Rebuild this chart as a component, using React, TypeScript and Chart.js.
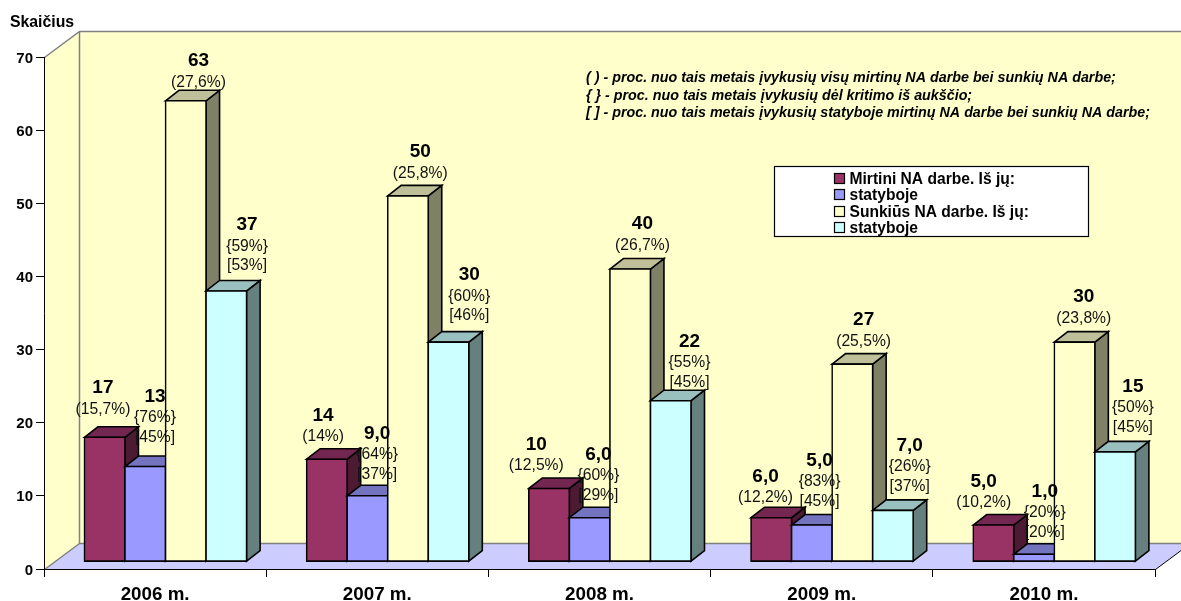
import React, { useEffect, useRef } from "react";
import { Chart, registerables } from "chart.js";

Chart.register(...registerables);

const FONT = '"Liberation Sans", Arial, sans-serif';

const categories = ["2006 m.", "2007 m.", "2008 m.", "2009 m.", "2010 m."];
const seriesNames = ["Mirtini NA darbe. Iš jų:", "statyboje", "Sunkiūs NA darbe. Iš jų:", "statyboje"];
const fatal = [17, 14, 10, 6, 5];
const fatalConstruction = [13, 9, 6, 5, 1];
const severe = [63, 50, 40, 27, 30];
const severeConstruction = [37, 30, 22, 7, 15];

const fatalLabels = ["17", "14", "10", "6,0", "5,0"];
const fatalConstructionLabels = ["13", "9,0", "6,0", "5,0", "1,0"];
const severeLabels = ["63", "50", "40", "27", "30"];
const severeConstructionLabels = ["37", "30", "22", "7,0", "15"];

const fatalNotes = [["(15,7%)"], ["(14%)"], ["(12,5%)"], ["(12,2%)"], ["(10,2%)"]];
const fatalConstructionNotes = [["{76%}", "[45%]"], ["{64%}", "[37%]"], ["{60%}", "[29%]"], ["{83%}", "[45%]"], ["{20%}", "[20%]"]];
const severeNotes = [["(27,6%)"], ["(25,8%)"], ["(26,7%)"], ["(25,5%)"], ["(23,8%)"]];
const severeConstructionNotes = [["{59%}", "[53%]"], ["{60%}", "[46%]"], ["{55%}", "[45%]"], ["{26%}", "[37%]"], ["{50%}", "[45%]"]];

const annotationLines = [
  "( ) - proc. nuo tais metais įvykusių visų mirtinų NA darbe bei sunkių NA darbe;",
  "{ } - proc. nuo tais metais įvykusių dėl kritimo iš aukščio;",
  "[ ] - proc. nuo tais metais įvykusių statyboje mirtinų NA darbe bei sunkių NA darbe;",
];
const yAxisCaption = "Skaičius";

// hand-placed label offsets from each bar's top-centre, as in the source chart
const labelDx = [
  [-1.75, -3.75, -12.75, -5.75, -9.75],
  [9.75, 9.75, 8.75, 7.75, 10.75],
  [12.75, 12.25, 12.25, 11.25, 9.25],
  [20.75, 20.75, 18.75, 16.75, 17.75],
];
const labelDy = [
  [-50.5, -45.4, -45.6, -42.9, -45.2],
  [-71.7, -63.9, -64.9, -66.2, -64.4],
  [-41.4, -45.4, -46.4, -45.4, -46.5],
  [-67.3, -68.5, -60.9, -66.6, -67.1],
];

const fills = ["#993366", "#9999FF", "#FFFFCC", "#CCFFFF"];
const topFills = ["#732650", "#7373BF", "#BFBF99", "#99BFBF"];
const sideFills = ["#4D1A33", "#4D4D80", "#808066", "#668080"];

const BAR_SHIFT_X = 10.4;
const BAR_SHIFT_Y = -7.4;
const BAR_DEPTH_X = 13.5;
const BAR_DEPTH_Y = 10.5;
const BAR_LINE = 1.6;
const WALL_DEPTH_X = 35;
const WALL_DEPTH_Y = 26;

function poly(ctx: CanvasRenderingContext2D, pts: number[][], fill: string, stroke: string | null, lw = BAR_LINE) {
  ctx.beginPath();
  pts.forEach((p, i) => (i ? ctx.lineTo(p[0], p[1]) : ctx.moveTo(p[0], p[1])));
  ctx.closePath();
  ctx.fillStyle = fill;
  ctx.fill();
  if (stroke) {
    ctx.lineWidth = lw;
    ctx.strokeStyle = stroke;
    ctx.lineJoin = "miter";
    ctx.stroke();
  }
}

const scenePlugin = {
  id: "scene3d",
  beforeDraw(chart: any) {
    const { ctx, chartArea: a } = chart;
    const dx = WALL_DEPTH_X, dy = WALL_DEPTH_Y;
    const L = a.left + 0.5, R = a.right + 0.5, T = a.top + 0.5, B = a.bottom + 0.5;
    ctx.save();
    ctx.fillStyle = "#FFFFFF";
    ctx.fillRect(0, 0, chart.width, chart.height);
    poly(ctx, [[L + dx, T - dy], [R + dx, T - dy], [R + dx, B - dy], [L + dx, B - dy]], "#FFFFCC", null);
    poly(ctx, [[L, T], [L + dx, T - dy], [L + dx, B - dy], [L, B]], "#FFFFCC", null);
    poly(ctx, [[L, B], [L + dx, B - dy], [R + dx, B - dy], [R, B]], "#CCCCFF", null);
    ctx.strokeStyle = "#808080";
    ctx.lineWidth = 1.5;
    ctx.beginPath();
    ctx.moveTo(L, T); ctx.lineTo(L + dx, T - dy); ctx.lineTo(R + dx, T - dy);
    ctx.moveTo(L + dx, T - dy); ctx.lineTo(L + dx, B - dy); ctx.lineTo(R + dx, B - dy);
    ctx.moveTo(L, B); ctx.lineTo(L + dx, B - dy);
    ctx.stroke();
    ctx.strokeStyle = "#000000";
    ctx.lineWidth = 1;
    ctx.beginPath();
    ctx.moveTo(R, B); ctx.lineTo(R + dx, B - dy);
    ctx.stroke();
    ctx.restore();
  },
  // Chart.js paints datasets last-to-first; this scene needs first-to-last so nearer faces overlap.
  beforeDatasetsDraw(chart: any) {
    const { ctx } = chart;
    chart.data.datasets.forEach((_: any, i: number) => {
      const meta = chart.getDatasetMeta(i);
      ctx.save();
      ctx.translate(BAR_SHIFT_X, BAR_SHIFT_Y);
      meta.data.forEach((el: any) => {
        const { x, y, base, width } = el.getProps(["x", "y", "base", "width"], true);
        const l = x - width / 2, r = x + width / 2;
        const dx = BAR_DEPTH_X, dy = BAR_DEPTH_Y;
        poly(ctx, [[r, y], [r + dx, y - dy], [r + dx, base - dy], [r, base]], sideFills[i], "#000000");
        poly(ctx, [[l, y], [l + dx, y - dy], [r + dx, y - dy], [r, y]], topFills[i], "#000000");
      });
      meta.controller.draw();
      ctx.restore();
    });
  },
  beforeDatasetDraw() {
    return false;
  },
  afterDatasetsDraw(chart: any) {
    const { ctx } = chart;
    const valueText = [fatalLabels, fatalConstructionLabels, severeLabels, severeConstructionLabels];
    const noteText = [fatalNotes, fatalConstructionNotes, severeNotes, severeConstructionNotes];
    ctx.save();
    ctx.textAlign = "center";
    ctx.textBaseline = "middle";
    ctx.fillStyle = "#000000";
    chart.data.datasets.forEach((_: any, i: number) => {
      chart.getDatasetMeta(i).data.forEach((el: any, k: number) => {
        const { x, y } = el.getProps(["x", "y"], true);
        const cx = x + BAR_SHIFT_X + labelDx[i][k];
        const cy = y + BAR_SHIFT_Y + labelDy[i][k];
        ctx.font = `bold 19px ${FONT}`;
        ctx.fillStyle = "#000000";
        ctx.fillText(valueText[i][k], cx, cy + 1.5);
        ctx.font = `15.7px ${FONT}`;
        ctx.fillStyle = "#111111";
        noteText[i][k].forEach((line: string, n: number) => {
          ctx.fillText(line, cx, cy + (n === 0 ? 23 : 42.5));
        });
      });
    });

    // notes on the wall
    ctx.textAlign = "left";
    ctx.font = `italic bold 14.3px ${FONT}`;
    ctx.fillStyle = "#000000";
    annotationLines.forEach((line, n) => ctx.fillText(line, 586, 78 + n * 17.7));

    // axis caption
    ctx.font = `bold 15.8px ${FONT}`;
    ctx.fillText(yAxisCaption, 10, 22.5);

    // legend
    ctx.lineWidth = 1.2;
    ctx.strokeStyle = "#000000";
    ctx.fillStyle = "#FFFFFF";
    ctx.fillRect(774.5, 166.5, 314, 70);
    ctx.strokeRect(774.5, 166.5, 314, 70);
    ctx.font = `bold 15.6px ${FONT}`;
    seriesNames.forEach((name, n) => {
      const ry = 178 + n * 16.35;
      ctx.fillStyle = fills[n];
      ctx.fillRect(834.5, Math.round(ry - 5) + 0.5, 10, 10);
      ctx.strokeRect(834.5, Math.round(ry - 5) + 0.5, 10, 10);
      ctx.fillStyle = "#000000";
      ctx.fillText(name, 849.5, ry + 1.5);
    });
    ctx.restore();
  },
};

const seriesData = [fatal, fatalConstruction, severe, severeConstruction];

export default function App() {
  const ref = useRef<HTMLCanvasElement>(null);
  useEffect(() => {
    if (!ref.current) return;
    const chart = new Chart(ref.current, {
      type: "bar",
      data: {
        labels: categories,
        datasets: seriesData.map((data, i) => ({
          label: seriesNames[i],
          data,
          backgroundColor: fills[i],
          borderColor: "#000000",
          borderWidth: BAR_LINE,
          borderSkipped: false,
          inflateAmount: BAR_LINE / 2,
          barPercentage: 1,
          categoryPercentage: 0.73,
        })),
      },
      options: {
        responsive: false,
        animation: false,
        devicePixelRatio: 1,
        layout: { autoPadding: false, padding: { left: 0, top: 57, right: 26, bottom: 0 } },
        plugins: { legend: { display: false }, title: { display: false }, tooltip: { enabled: false } },
        font: { family: FONT },
        scales: {
          x: {
            offset: true,
            afterFit: (s: any) => { s.height = 32; },
            border: { color: "#000000", width: 1 },
            grid: { offset: true, drawOnChartArea: false, drawTicks: true, tickLength: 8, color: "#000000" },
            ticks: { color: "#000000", padding: 7, maxRotation: 0, font: { family: FONT, size: 18.8, weight: "bold" } },
          },
          y: {
            min: 0,
            max: 70,
            afterFit: (s: any) => { s.width = 44; },
            border: { color: "#000000", width: 1 },
            grid: { drawOnChartArea: false, drawTicks: true, tickLength: 8, color: "#000000" },
            ticks: { stepSize: 10, color: "#000000", padding: 3, labelOffset: 1.5, font: { family: FONT, size: 15, weight: "bold" } },
          },
        },
      } as any,
      plugins: [scenePlugin],
    });
    return () => chart.destroy();
  }, []);
  return (
    <div style={{ position: "fixed", left: 0, top: 0 }}>
      <canvas ref={ref} width={1181} height={601} style={{ display: "block" }} />
    </div>
  );
}
